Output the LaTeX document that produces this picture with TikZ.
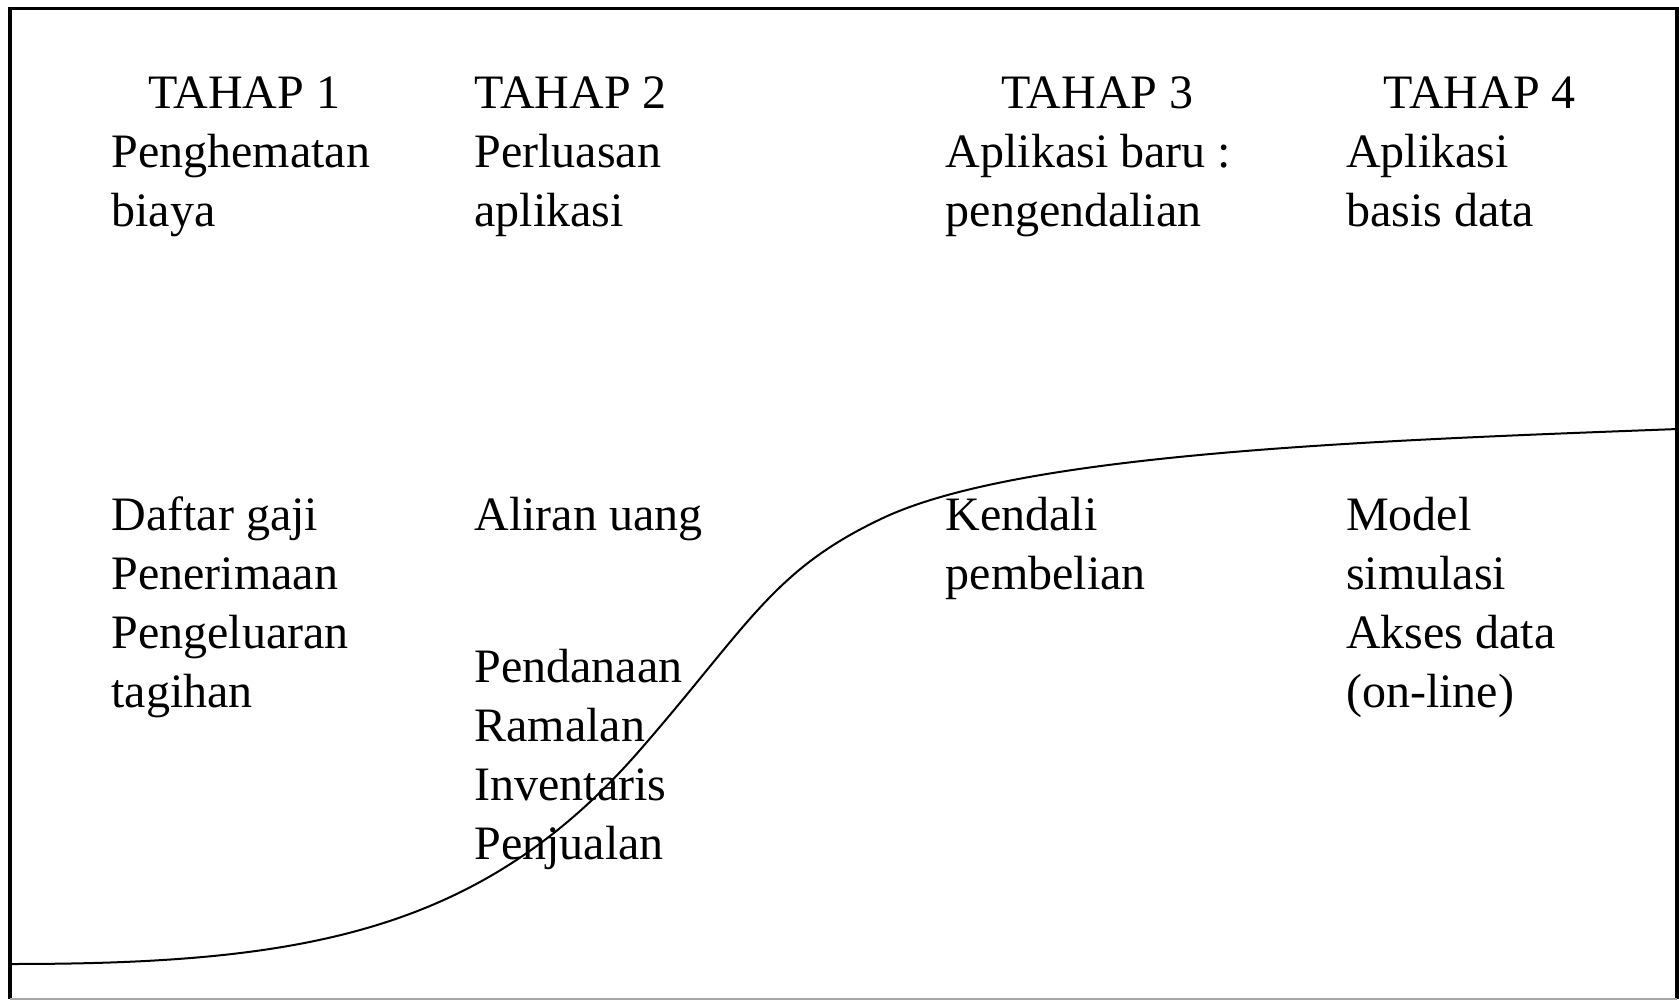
\documentclass[tikz,border=0pt]{standalone}
\usepackage{fontspec}
\setmainfont{Liberation Serif}
\tikzset{
  lbl/.style={anchor=base west, inner sep=0pt, font=\fontsize{48}{59}\selectfont},
}
\newcommand{\lines}[1]{\begin{tabular}[t]{@{}l@{}}#1\end{tabular}}
\begin{document}
\begin{tikzpicture}[x=1pt,y=-1pt]
\useasboundingbox (0,0) rectangle (1679,1000);
% frame
\draw[line width=3.5pt] (10,999) -- (10,8.5) -- (1677,8.5) -- (1677,999);
\draw[line width=1.5pt, black!35] (10,999) -- (1677,999);
% S-curve
\coordinate (s0) at (11,964);
\coordinate (s1) at (640,750);
\coordinate (s2) at (883,518);
\coordinate (s3) at (1678,429);
\draw[line width=2pt]
  (s0) .. controls (300,964) and (480,934) .. (s1)
       .. controls (750,623.5) and (773,569.7) .. (s2)
       .. controls (1023,452.2) and (1378,440.4) .. (s3);
% headings
\node[lbl] (t1) at (147.8,109) {TAHAP 1};
\node[lbl] (d1) at (111.4,168) {\lines{Penghematan\\biaya}};
\node[lbl] (t2) at (474.4,109) {TAHAP 2};
\node[lbl] (d2) at (474.4,168) {\lines{Perluasan\\aplikasi}};
\node[lbl] (t3) at (1001.2,109) {TAHAP 3};
\node[lbl] (d3) at (945.5,168) {\lines{Aplikasi baru :\\pengendalian}};
\node[lbl] (t4) at (1383.5,109) {TAHAP 4};
\node[lbl] (d4) at (1346,168) {\lines{Aplikasi\\basis data}};
% lower items
\node[lbl] (a1) at (111.4,530) {\lines{Daftar gaji\\Penerimaan\\Pengeluaran\\tagihan}};
\node[lbl] (a2) at (474.4,530) {Aliran uang};
\node[lbl] (a3) at (474.4,682) {\lines{Pendanaan\\Ramalan\\Inventaris\\Penjualan}};
\node[lbl] (a4) at (945.5,530) {\lines{Kendali\\pembelian}};
\node[lbl] (a5) at (1346,530) {\lines{Model\\simulasi\\Akses data\\(on-line)}};
\end{tikzpicture}
\end{document}
